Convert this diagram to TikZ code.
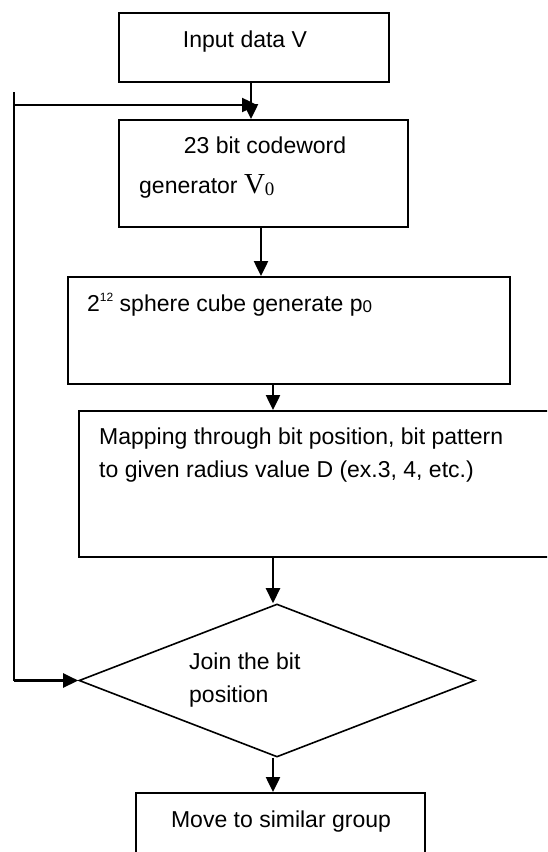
\documentclass[tikz,border=0pt]{standalone}
\usepackage{fontspec}
\setmainfont{Liberation Sans}
\newfontfamily\serifV{Liberation Serif}
\usetikzlibrary{arrows.meta, positioning, calc, shapes.geometric}

\begin{document}
\begin{tikzpicture}[x=1pt, y=-1pt, every node/.style={font=\fontsize{23}{33}\selectfont},
  box/.style={draw, line width=2pt, inner sep=0pt},
  flow/.style={-{Triangle[length=15pt,width=14pt]}, line width=2.5pt},
  txt/.style={inner sep=0pt}]
\useasboundingbox (0,0) rectangle (547,852);
\clip (0,0) rectangle (547,852);
% boxes
\node[box, minimum width=270, minimum height=69] (input) at (254,47.5) {};
\node[box, minimum width=289, minimum height=107] (gen) at (263.5,173.5) {};
\node[box, minimum width=442, minimum height=107] (sphere) at (289,330.5) {};
\node[box, minimum width=481, minimum height=146] (mapping) at (319.5,484) {};
\node[box, diamond, line width=1.6pt, minimum width=396, minimum height=153] (join) at (277,680.5) {};
\node[box, minimum width=289, minimum height=87] (move) at (280.5,836.5) {};
% texts
\node[txt, anchor=base] (inputtxt) at (245,47) {Input data V};
\node[txt, anchor=base] (gentxt) at (265,153) {23 bit codeword};
\node[txt, anchor=base west] (gentxtb) at (139,193) {generator {\serifV\fontsize{29}{29}\selectfont V}\raisebox{-2pt}{\serifV\fontsize{19}{19}\selectfont 0}};
\node[txt, anchor=base west] (spheretxt) at (87,311) {2\raisebox{10pt}{\fontsize{12}{12}\selectfont 12} sphere cube generate p\raisebox{-1pt}{\fontsize{17}{17}\selectfont 0}};
\node[txt, anchor=north west, align=left] (mappingtxt) at (99,428) {Mapping through bit position, bit pattern\\to given radius value D (ex.3, 4, etc.)};
\node[txt, anchor=north west, align=left] (jointxt) at (189,653) {Join the bit\\position};
\node[txt, anchor=base] (movetxt) at (281,827) {Move to similar group};
% connectors
\draw[flow] ([xshift=-3]input.south) -- ([xshift=-3]input.south |- gen.north);
\draw[flow] ([xshift=-2.5]gen.south) -- ([xshift=-2.5]gen.south |- sphere.north);
\draw[flow] ([xshift=-16]sphere.south) -- ([xshift=-16]sphere.south |- mapping.north);
\draw[flow] ([xshift=-4]join.north |- mapping.south) -- ([xshift=-4]join.north);
\draw[flow] ([xshift=-4]join.south) -- ([xshift=-4]join.south |- move.north);
% feedback loop
\coordinate (fbtop) at (14,92);
\coordinate (fbmid) at (14,105);
\coordinate (fbend) at (257,105);
\coordinate (fbbot) at (14,680.5);
\draw[line width=2.5pt] (fbtop) -- (fbbot);
\draw[flow] (fbmid) -- (fbend);
\draw[flow] (fbbot) -- (join.west);
\end{tikzpicture}
\end{document}
